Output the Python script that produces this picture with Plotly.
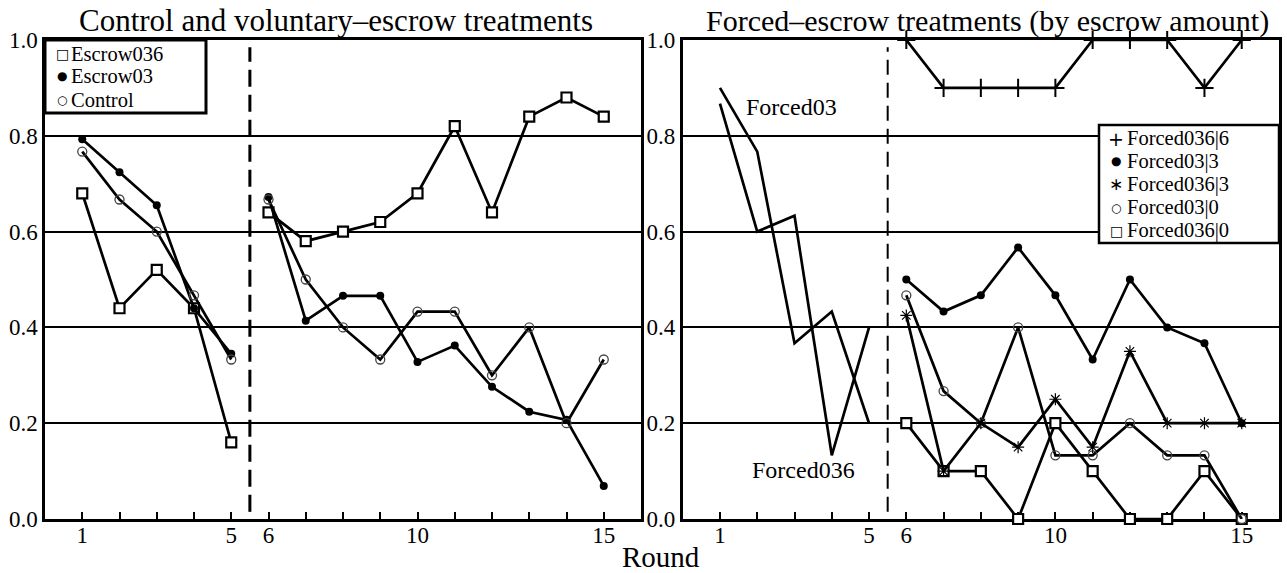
import plotly.graph_objects as go

# ---------------- data ----------------
rounds_first = [1, 2, 3, 4, 5]
rounds_second = [6, 7, 8, 9, 10, 11, 12, 13, 14, 15]
tick_rounds = list(range(1, 16))
tick_labels = ["1", "", "", "", "5", "6", "", "", "", "10", "", "", "", "", "15"]
y_ticks = [0.0, 0.2, 0.4, 0.6, 0.8, 1.0]
y_tick_labels = ["0.0", "0.2", "0.4", "0.6", "0.8", "1.0"]

# Left panel: control and voluntary escrow (rounds 1-5, then 6-15)
left_names = ["Escrow036", "Escrow03", "Control"]
escrow036 = [0.68, 0.44, 0.52, 0.44, 0.16, 0.64, 0.58, 0.60, 0.62, 0.68, 0.82, 0.64, 0.84, 0.88, 0.84]
escrow03 = [0.793, 0.724, 0.655, 0.44, 0.345, 0.672, 0.414, 0.466, 0.466, 0.328, 0.362, 0.276, 0.224, 0.207, 0.069]
control = [0.767, 0.667, 0.60, 0.467, 0.333, 0.667, 0.50, 0.40, 0.333, 0.433, 0.433, 0.30, 0.40, 0.20, 0.333]

# Right panel: forced escrow, rounds 1-5
forced03 = [0.90, 0.767, 0.367, 0.433, 0.20]
forced036 = [0.867, 0.60, 0.633, 0.133, 0.40]
# Right panel: forced escrow by escrow amount, rounds 6-15
right_names = ["Forced036|6", "Forced03|3", "Forced036|3", "Forced03|0", "Forced036|0"]
forced036_6 = [1.0, 0.9, 0.9, 0.9, 0.9, 1.0, 1.0, 1.0, 0.9, 1.0]
forced03_3 = [0.50, 0.433, 0.467, 0.567, 0.467, 0.333, 0.50, 0.40, 0.367, 0.20]
forced036_3 = [0.425, 0.10, 0.20, 0.15, 0.25, 0.15, 0.35, 0.20, 0.20, 0.20]
forced03_0 = [0.467, 0.267, 0.20, 0.40, 0.133, 0.133, 0.20, 0.133, 0.133, 0.0]
forced036_0 = [0.20, 0.10, 0.10, 0.0, 0.20, 0.10, 0.0, 0.0, 0.10, 0.0]

FONT = "Liberation Serif"
BLACK = "black"
W, H = 1287, 573

def split(vals):
    xs = rounds_first + [None] + rounds_second
    ys = vals[:5] + [None] + vals[5:]
    return xs, ys

sq = dict(symbol="square", size=10, color="white", line=dict(color=BLACK, width=2.2))
dot = dict(symbol="circle", size=8, color=BLACK, line=dict(color=BLACK, width=0))
ring = dict(symbol="circle-open", size=9, color="#444444", line=dict(width=1.3))
plus = dict(symbol="cross-thin", size=13, color=BLACK, line=dict(color=BLACK, width=2))
star = dict(symbol="asterisk-open", size=10, color=BLACK, line=dict(color=BLACK, width=1.2))
line = dict(color=BLACK, width=2.7)

fig = go.Figure()

# left panel
for vals, mk in [(escrow036, sq), (escrow03, dot), (control, ring)]:
    xs, ys = split(vals)
    fig.add_trace(go.Scatter(x=xs, y=ys, mode="lines+markers", line=line, marker=mk,
                             showlegend=False, cliponaxis=False, xaxis="x", yaxis="y"))

# right panel rounds 1-5
for vals in [forced03, forced036]:
    fig.add_trace(go.Scatter(x=rounds_first, y=vals, mode="lines", line=line,
                             showlegend=False, xaxis="x2", yaxis="y2"))
# right panel rounds 6-15
right_series = [(forced036_6, plus), (forced03_3, dot), (forced036_3, star),
                (forced03_0, ring), (forced036_0, sq)]
for vals, mk in reversed(right_series):
    fig.add_trace(go.Scatter(x=rounds_second, y=vals, mode="lines+markers", line=line, marker=mk,
                             showlegend=False, cliponaxis=False, xaxis="x2", yaxis="y2"))

xl = [45 / W, 641 / W]
xr = [682.7 / W, 1279 / W]
yd = [1 - 519 / H, 1 - 40 / H]

def xaxis(domain, anchor):
    return dict(domain=domain, anchor=anchor, range=[0, 16], tickmode="array",
                tickvals=tick_rounds, ticktext=tick_labels, ticks="inside", ticklen=7,
                tickwidth=2, tickcolor=BLACK, showgrid=False, zeroline=False,
                showline=True, mirror=True, linecolor=BLACK, linewidth=2.5,
                layer="below traces", automargin=False, ticklabelstandoff=-6,
                tickfont=dict(family=FONT, size=23, color=BLACK))

def yaxis(anchor):
    return dict(domain=yd, anchor=anchor, range=[0, 1], tickmode="array",
                tickvals=y_ticks, ticktext=y_tick_labels, ticks="", showgrid=True,
                gridcolor=BLACK, gridwidth=2.4, zeroline=False, showline=True, mirror=True,
                linecolor=BLACK, linewidth=2.5, layer="below traces", automargin=False,
                tickfont=dict(family=FONT, size=23, color=BLACK))

def outer_ticks(overlay, anchor):
    return dict(overlaying=overlay, anchor=anchor, range=[0, 16], tickmode="array",
                tickvals=tick_rounds, ticks="outside", ticklen=7, tickwidth=2,
                tickcolor=BLACK, showticklabels=False, showgrid=False, zeroline=False,
                showline=False, side="bottom", automargin=False)

fig.update_layout(
    width=W, height=H,
    margin=dict(l=0, r=0, t=0, b=0, autoexpand=False),
    paper_bgcolor="white", plot_bgcolor="white",
    font=dict(family=FONT, size=23, color=BLACK),
    xaxis=xaxis(xl, "y"),
    yaxis=yaxis("x"),
    xaxis2=xaxis(xr, "y2"),
    yaxis2=yaxis("x2"),
    xaxis3=outer_ticks("x", "y"),
    xaxis4=outer_ticks("x2", "y2"),
    showlegend=False,
)

# dashed separators between rounds 5 and 6
for xa, ya, w, dash in [("x", "y", 3, "17px,8px"), ("x2", "y2", 2, "15px,8px")]:
    fig.add_shape(type="line", xref=xa, yref=ya, x0=5.5, x1=5.5, y0=0.015, y1=0.985,
                  line=dict(color=BLACK, width=w, dash=dash))

def px(x, y):
    return x / W, 1 - y / H

# legend boxes (bordered rectangles with one symbol + label per row)
def legend_box(x0, y0, x1, y1, lw):
    a, b = px(x0, y0)
    c, d = px(x1, y1)
    fig.add_shape(type="rect", xref="paper", yref="paper", x0=a, y0=d, x1=c, y1=b,
                  fillcolor="white", line=dict(color=BLACK, width=lw), layer="above")

def legend_entry(sym, sym_size, label, xs, xt, y):
    sx, sy = px(xs, y)
    fig.add_annotation(text=sym, xref="paper", yref="paper", x=sx, y=sy, showarrow=False,
                       xanchor="center", yanchor="middle", borderpad=0,
                       font=dict(family="DejaVu Sans", size=sym_size, color=BLACK))
    tx, ty = px(xt, y)
    fig.add_annotation(text=label, xref="paper", yref="paper", x=tx, y=ty, showarrow=False,
                       xanchor="left", yanchor="middle", borderpad=0,
                       font=dict(family=FONT, size=20.5, color=BLACK))

legend_box(45, 40, 206, 113, 3)
for sym, size, label, y in zip(["□", "●", "○"], [14, 12, 12], left_names, [53.5, 76.5, 99.5]):
    legend_entry(sym, size, label, 62, 70, y)

legend_box(1099, 125, 1279, 243, 2.5)
for sym, size, label, y in zip(["+", "●", "∗", "○", "□"], [19, 12, 17, 12, 14], right_names,
                               [138.5, 161.5, 184.5, 207.5, 230.5]):
    legend_entry(sym, size, label, 1116, 1126, y)

# titles and labels
tx, ty = px(336, 21)
fig.add_annotation(text="Control and voluntary–escrow treatments", xref="paper", yref="paper",
                   x=tx, y=ty, showarrow=False, xanchor="center", yanchor="middle",
                   font=dict(family=FONT, size=31, color=BLACK))
tx, ty = px(987, 21)
fig.add_annotation(text="Forced–escrow treatments (by escrow amount)", xref="paper", yref="paper",
                   x=tx, y=ty, showarrow=False, xanchor="center", yanchor="middle",
                   font=dict(family=FONT, size=30, color=BLACK))
tx, ty = px(661, 557)
fig.add_annotation(text="Round", xref="paper", yref="paper", x=tx, y=ty,
                   showarrow=False, xanchor="center", yanchor="middle",
                   font=dict(family=FONT, size=29, color=BLACK))
fig.add_annotation(text="Forced03", xref="x2", yref="y2", x=2.93, y=0.861, showarrow=False,
                   font=dict(family=FONT, size=24, color=BLACK))
fig.add_annotation(text="Forced036", xref="x2", yref="y2", x=3.23, y=0.102, showarrow=False,
                   font=dict(family=FONT, size=24, color=BLACK))

fig.write_html("out.html")
